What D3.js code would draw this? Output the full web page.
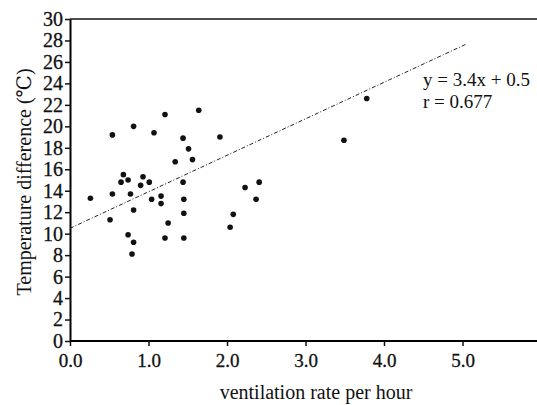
<!DOCTYPE html>
<html>
<head>
<meta charset="utf-8">
<script src="https://cdn.jsdelivr.net/npm/d3@7"></script>
<style>
  body { margin: 0; background: #fff; }
  svg { display: block; font-family: "Liberation Serif", "DejaVu Serif", serif; }
</style>
</head>
<body>
<div id="chart"></div>
<script>
// ventilation rate per hour vs temperature difference
const rate = [0.26, 0.54, 0.81, 1.21, 1.64, 1.07, 1.44, 1.91, 1.51, 1.56,
  1.34, 0.68, 0.74, 0.65, 0.93, 1.01, 0.90, 1.44, 0.54, 0.77,
  1.04, 1.16, 1.16, 1.45, 0.81, 0.51, 1.45, 1.25, 0.74, 0.81,
  0.79, 1.21, 1.45, 2.23, 2.08, 2.04, 2.37, 2.41, 3.78, 3.49];
const tempDiff = [13.3, 19.2, 20.0, 21.1, 21.5, 19.4, 18.9, 19.0, 17.9, 16.9,
  16.7, 15.5, 15.0, 14.8, 15.3, 14.8, 14.5, 14.8, 13.7, 13.7,
  13.2, 13.5, 12.8, 13.2, 12.2, 11.3, 11.9, 11.0, 9.9, 9.2,
  8.1, 9.6, 9.6, 14.3, 11.8, 10.6, 13.2, 14.8, 22.6, 18.7];

const fitSlope = 3.4, fitIntercept = 10.5, fitRange = [0, 5.06];
const xTicks = [0, 1, 2, 3, 4, 5];
const yTicks = d3.range(0, 31, 2);
const annotation = ['y = 3.4x + 0.5', 'r = 0.677'];

const serif = '"Liberation Serif", "DejaVu Serif", serif';
const width = 537, height = 405;
const svg = d3.select('#chart').append('svg')
  .attr('width', width).attr('height', height);

const x = d3.scaleLinear().domain([0, 6]).range([70, 541]);
const y = d3.scaleLinear().domain([0, 30]).range([341, 19]);

// frame: top line (right side is cropped off)
svg.append('line')
  .attr('x1', x(0)).attr('x2', width)
  .attr('y1', y(30)).attr('y2', y(30))
  .attr('stroke', '#111').attr('stroke-width', 1.6);

const xAxis = svg.append('g')
  .attr('transform', `translate(0,${y(0)})`)
  .call(d3.axisBottom(x).tickValues(xTicks).tickFormat(d3.format('.1f')).tickSize(5).tickPadding(8).tickSizeOuter(0))
  .attr('font-family', serif).attr('font-size', 19);
xAxis.select('.domain').attr('d', `M${x(0)},0H${width}`).attr('stroke-width', 2);

const yAxis = svg.append('g')
  .attr('transform', `translate(${x(0)},0)`)
  .call(d3.axisLeft(y).tickValues(yTicks).tickSize(5).tickPadding(2).tickSizeOuter(0))
  .attr('font-family', serif).attr('font-size', 20);
yAxis.select('.domain').attr('stroke-width', 2);

svg.selectAll('.tick line').attr('stroke', '#111').attr('stroke-width', 1.5);
svg.selectAll('.tick text').attr('fill', '#111')
  .attr('stroke', '#111').attr('stroke-width', 0.3);

// regression line
svg.append('line')
  .attr('x1', x(fitRange[0])).attr('y1', y(fitIntercept + fitSlope * fitRange[0]))
  .attr('x2', x(fitRange[1])).attr('y2', y(fitIntercept + fitSlope * fitRange[1]))
  .attr('stroke', '#222').attr('stroke-width', 1)
  .attr('stroke-dasharray', '4,2,1,2');

// points
svg.append('g').selectAll('circle')
  .data(rate.map((r, i) => [r, tempDiff[i]]))
  .join('circle')
  .attr('cx', d => x(d[0]))
  .attr('cy', d => y(d[1]))
  .attr('r', 2.8)
  .attr('fill', '#111');

// equation
svg.append('g').selectAll('text')
  .data(annotation)
  .join('text')
  .attr('x', 423)
  .attr('y', (d, i) => 86 + i * 22)
  .attr('font-size', 19)
  .attr('fill', '#111')
  .text(d => d);

// axis titles
svg.append('text')
  .attr('x', 316).attr('y', 399)
  .attr('text-anchor', 'middle')
  .attr('font-size', 20)
  .attr('fill', '#111')
  .text('ventilation rate per hour');

svg.append('text')
  .attr('transform', 'translate(31,182) rotate(-90)')
  .attr('text-anchor', 'middle')
  .attr('font-size', 20)
  .attr('fill', '#111')
  .text('Temperature difference (℃)');
</script>
</body>
</html>
